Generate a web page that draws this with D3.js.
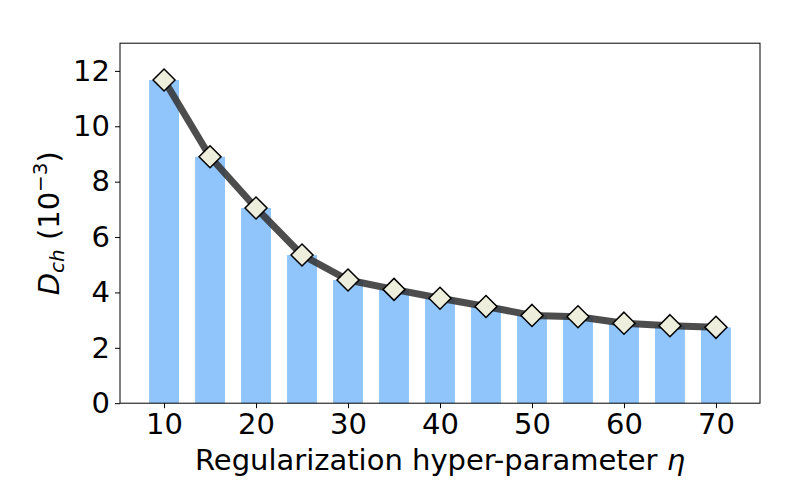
<!DOCTYPE html>
<html><head><meta charset="utf-8">
<script src="https://cdn.jsdelivr.net/npm/d3@7"></script>
<style>body{margin:0;background:#fff}svg{display:block}text{font-family:"DejaVu Sans",sans-serif}</style>
</head><body><svg id="c" width="800" height="480"></svg>
<script>
const etas = [10, 15, 20, 25, 30, 35, 40, 45, 50, 55, 60, 65, 70];
const dch = [11.67, 8.90, 7.05, 5.35, 4.45, 4.11, 3.79, 3.49, 3.17, 3.12, 2.89, 2.80, 2.74];
const xTicks = [10, 20, 30, 40, 50, 60, 70];
const yTicks = [0, 2, 4, 6, 8, 10, 12];

const svg = d3.select("#c");
const L = 120, R = 760, T = 43.2, B = 403.2;
const barW = 3.25;
const x = d3.scaleLinear().domain([5.2125, 74.7875]).range([L, R]);
const y = d3.scaleLinear().domain([0, 13]).range([B, T]);

svg.append("g").selectAll("rect").data(etas).join("rect")
  .attr("x", (d) => x(d - barW / 2))
  .attr("width", (d) => x(d + barW / 2) - x(d - barW / 2))
  .attr("y", (d, i) => y(dch[i]))
  .attr("height", (d, i) => y(0) - y(dch[i]))
  .attr("fill", "#90c5fc");

const line = d3.line().x((d) => x(d[0])).y((d) => y(d[1]));
svg.append("path").datum(etas.map((e, i) => [e, dch[i]]))
  .attr("d", line).attr("fill", "none")
  .attr("stroke", "#333").attr("stroke-opacity", 0.87)
  .attr("stroke-width", 7).attr("stroke-linejoin", "round");

const s = 11;
svg.append("g").selectAll("path").data(etas).join("path")
  .attr("transform", (d, i) => `translate(${x(d)},${y(dch[i])})`)
  .attr("d", `M0,${-s}L${s},0L0,${s}L${-s},0Z`)
  .attr("fill", "#eeeedc").attr("stroke", "#000").attr("stroke-width", 1.5);

svg.append("rect").attr("x", L).attr("y", T).attr("width", R - L).attr("height", B - T)
  .attr("fill", "none").attr("stroke", "#000").attr("stroke-width", 1);

const xAxis = svg.append("g").attr("transform", `translate(0,${B})`)
  .call(d3.axisBottom(x).tickValues(xTicks).tickSize(5).tickPadding(5));
const yAxis = svg.append("g").attr("transform", `translate(${L},0)`)
  .call(d3.axisLeft(y).tickValues(yTicks).tickSize(5).tickPadding(5));
[xAxis, yAxis].forEach((g) => {
  g.select(".domain").remove();
  g.selectAll("line").attr("stroke", "#000");
  g.selectAll("text").attr("font-size", 29).attr("fill", "#000")
    .style("font-family", '"DejaVu Sans", sans-serif');
});

svg.append("text").attr("x", (L + R) / 2).attr("y", 470)
  .attr("text-anchor", "middle").attr("font-size", 29).attr("fill", "#000")
  .text("Regularization hyper-parameter ").append("tspan")
  .attr("font-style", "italic").text("η");

const yl = svg.append("text").attr("transform", `translate(59,${(T + B) / 2}) rotate(-90)`)
  .attr("text-anchor", "middle").attr("font-size", 29).attr("fill", "#000");
yl.append("tspan").attr("font-style", "italic").text("D");
yl.append("tspan").attr("font-style", "italic").attr("font-size", 20).attr("dy", 5).text("ch");
yl.append("tspan").attr("dy", -5).text(" (10");
yl.append("tspan").attr("font-size", 20).attr("dy", -12).text("\u22123");
yl.append("tspan").attr("dy", 12).text(")");
</script></body></html>
